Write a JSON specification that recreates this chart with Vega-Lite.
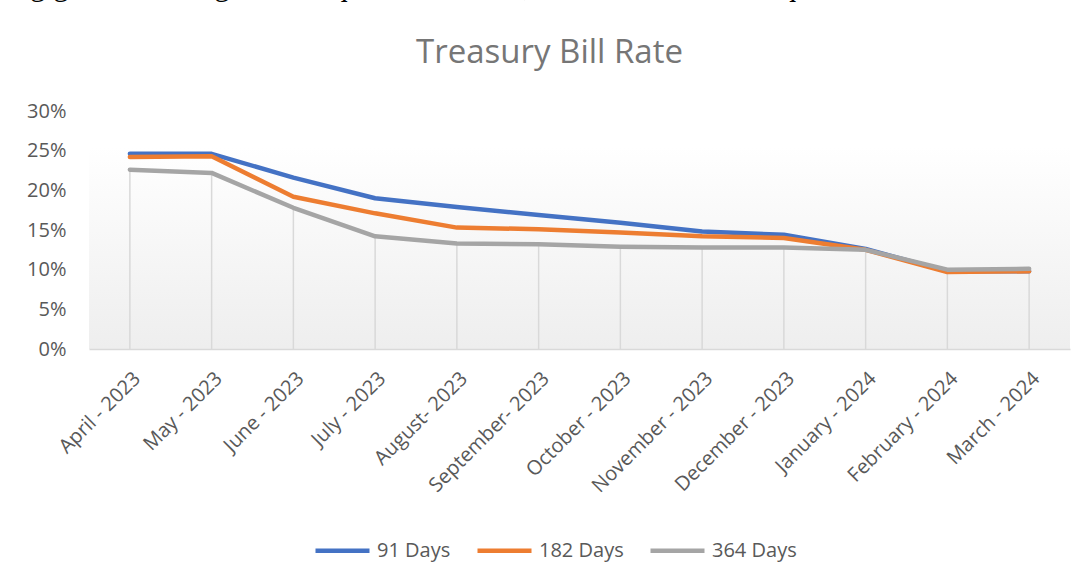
{
  "$schema": "https://vega.github.io/schema/vega-lite/v6.json",
  "width": 981,
  "height": 238,
  "autosize": {"type": "none"},
  "padding": {"left": 89, "top": 111, "right": 14, "bottom": 232},
  "background": "#ffffff",
  "title": {
    "text": "g growth during the 3rd quarter of 2023, after 3 consecutive quarters of contraction.",
    "subtitle": "Treasury Bill Rate",
    "font": "Liberation Serif",
    "fontSize": 31,
    "fontWeight": "normal",
    "color": "#000000",
    "subtitleFont": "Open Sans",
    "subtitleFontSize": 33,
    "subtitleColor": "#767676",
    "subtitlePadding": 35,
    "anchor": "middle",
    "frame": "group",
    "offset": 30,
    "dx": -30
  },
  "data": {
    "values": [
      {"month": "April - 2023", "series": "91 Days", "rate": 0.246},
      {"month": "May - 2023", "series": "91 Days", "rate": 0.246},
      {"month": "June - 2023", "series": "91 Days", "rate": 0.216},
      {"month": "July - 2023", "series": "91 Days", "rate": 0.190},
      {"month": "August- 2023", "series": "91 Days", "rate": 0.179},
      {"month": "September- 2023", "series": "91 Days", "rate": 0.169},
      {"month": "October - 2023", "series": "91 Days", "rate": 0.159},
      {"month": "November - 2023", "series": "91 Days", "rate": 0.148},
      {"month": "December - 2023", "series": "91 Days", "rate": 0.144},
      {"month": "January - 2024", "series": "91 Days", "rate": 0.126},
      {"month": "February - 2024", "series": "91 Days", "rate": 0.098},
      {"month": "March - 2024", "series": "91 Days", "rate": 0.098},
      {"month": "April - 2023", "series": "182 Days", "rate": 0.242},
      {"month": "May - 2023", "series": "182 Days", "rate": 0.243},
      {"month": "June - 2023", "series": "182 Days", "rate": 0.192},
      {"month": "July - 2023", "series": "182 Days", "rate": 0.171},
      {"month": "August- 2023", "series": "182 Days", "rate": 0.153},
      {"month": "September- 2023", "series": "182 Days", "rate": 0.151},
      {"month": "October - 2023", "series": "182 Days", "rate": 0.147},
      {"month": "November - 2023", "series": "182 Days", "rate": 0.142},
      {"month": "December - 2023", "series": "182 Days", "rate": 0.140},
      {"month": "January - 2024", "series": "182 Days", "rate": 0.125},
      {"month": "February - 2024", "series": "182 Days", "rate": 0.097},
      {"month": "March - 2024", "series": "182 Days", "rate": 0.098},
      {"month": "April - 2023", "series": "364 Days", "rate": 0.226},
      {"month": "May - 2023", "series": "364 Days", "rate": 0.222},
      {"month": "June - 2023", "series": "364 Days", "rate": 0.178},
      {"month": "July - 2023", "series": "364 Days", "rate": 0.142},
      {"month": "August- 2023", "series": "364 Days", "rate": 0.133},
      {"month": "September- 2023", "series": "364 Days", "rate": 0.132},
      {"month": "October - 2023", "series": "364 Days", "rate": 0.129},
      {"month": "November - 2023", "series": "364 Days", "rate": 0.128},
      {"month": "December - 2023", "series": "364 Days", "rate": 0.128},
      {"month": "January - 2024", "series": "364 Days", "rate": 0.125},
      {"month": "February - 2024", "series": "364 Days", "rate": 0.100},
      {"month": "March - 2024", "series": "364 Days", "rate": 0.101}
    ]
  },
  "encoding": {
    "x": {
      "field": "month",
      "type": "ordinal",
      "sort": null,
      "scale": {"type": "point", "padding": 0.5},
      "axis": {
        "title": null,
        "labelAngle": -45,
        "labelAlign": "right",
        "labelBaseline": "top",
        "labelFont": "Open Sans",
        "labelFontSize": 20,
        "labelColor": "#595959",
        "labelPadding": 19,
        "labelOverlap": false,
        "ticks": false,
        "domainColor": "#d9d9d9",
        "domainWidth": 1.5,
        "grid": false
      }
    }
  },
  "layer": [
    {
      "mark": {"type": "rule", "color": "#d9d9d9", "strokeWidth": 1.5},
      "encoding": {
        "y": {
          "aggregate": "min",
          "field": "rate",
          "type": "quantitative",
          "scale": {"domain": [0, 0.3], "nice": false, "zero": true},
          "axis": {
            "title": null,
            "format": ".0%",
            "values": [0, 0.05, 0.1, 0.15, 0.2, 0.25, 0.3],
            "labelOverlap": false,
            "labelFont": "Open Sans",
            "labelFontSize": 20,
            "labelColor": "#595959",
            "labelPadding": 23,
            "ticks": false,
            "domain": false,
            "grid": false
          }
        },
        "y2": {"datum": 0}
      }
    },
    {
      "mark": {"type": "line", "strokeWidth": 4.5, "strokeCap": "round", "strokeJoin": "round"},
      "encoding": {
        "y": {
          "field": "rate",
          "type": "quantitative",
          "scale": {"domain": [0, 0.3], "nice": false, "zero": true},
          "axis": {
            "title": null,
            "format": ".0%",
            "values": [0, 0.05, 0.1, 0.15, 0.2, 0.25, 0.3],
            "labelOverlap": false,
            "labelFont": "Open Sans",
            "labelFontSize": 20,
            "labelColor": "#595959",
            "labelPadding": 23,
            "ticks": false,
            "domain": false,
            "grid": false
          }
        },
        "color": {
          "field": "series",
          "type": "nominal",
          "scale": {"domain": ["91 Days", "182 Days", "364 Days"], "range": ["#4472c4", "#ed7d31", "#a5a5a5"]},
          "legend": {
            "title": null,
            "orient": "none",
            "direction": "horizontal",
            "legendX": 224,
            "legendY": 410,
            "symbolType": "stroke",
            "symbolSize": 2916,
            "symbolStrokeWidth": 4.5,
            "labelFont": "Open Sans",
            "labelFontSize": 20,
            "labelColor": "#595959",
            "labelOffset": 5,
            "columnPadding": 17
          }
        }
      }
    }
  ],
  "config": {
    "view": {
      "stroke": null,
      "fill": {
        "gradient": "linear",
        "x1": 0, "y1": 0, "x2": 0, "y2": 1,
        "stops": [
          {"offset": 0, "color": "#ffffff"},
          {"offset": 0.15, "color": "#ffffff"},
          {"offset": 1, "color": "#eeeeee"}
        ]
      }
    }
  }
}
